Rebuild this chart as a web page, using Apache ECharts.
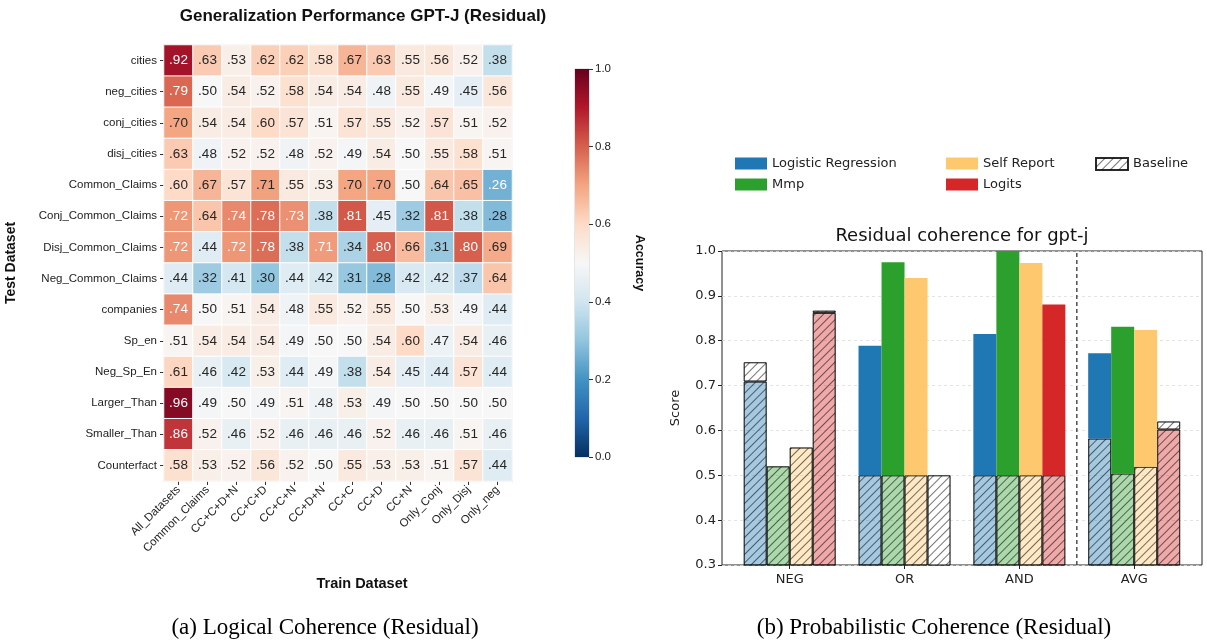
<!DOCTYPE html>
<html><head><meta charset="utf-8">
<script src="https://cdn.jsdelivr.net/npm/echarts@6/dist/echarts.min.js"></script>
<style>html,body{margin:0;padding:0;background:#fff}#c{width:1207px;height:643px}</style>
</head><body><div id="c"></div>
<script>
// ---------- Heatmap data ----------
const trainSets = ['All_Datasets','Common_Claims','CC+C+D+N','CC+C+D','CC+C+N','CC+D+N','CC+C','CC+D','CC+N','Only_Conj','Only_Disj','Only_neg'];
const testSets = ['cities','neg_cities','conj_cities','disj_cities','Common_Claims','Conj_Common_Claims','Disj_Common_Claims','Neg_Common_Claims','companies','Sp_en','Neg_Sp_En','Larger_Than','Smaller_Than','Counterfact'];
const accCities        = [0.92,0.63,0.53,0.62,0.62,0.58,0.67,0.63,0.55,0.56,0.52,0.38];
const accNegCities     = [0.79,0.50,0.54,0.52,0.58,0.54,0.54,0.48,0.55,0.49,0.45,0.56];
const accConjCities    = [0.70,0.54,0.54,0.60,0.57,0.51,0.57,0.55,0.52,0.57,0.51,0.52];
const accDisjCities    = [0.63,0.48,0.52,0.52,0.48,0.52,0.49,0.54,0.50,0.55,0.58,0.51];
const accCommonClaims  = [0.60,0.67,0.57,0.706,0.55,0.53,0.70,0.70,0.50,0.64,0.65,0.26];
const accConjCommon    = [0.72,0.64,0.74,0.78,0.73,0.38,0.81,0.45,0.32,0.81,0.38,0.28];
const accDisjCommon    = [0.72,0.44,0.72,0.78,0.38,0.714,0.34,0.80,0.66,0.31,0.80,0.69];
const accNegCommon     = [0.44,0.32,0.41,0.30,0.44,0.42,0.31,0.28,0.42,0.42,0.37,0.64];
const accCompanies     = [0.74,0.50,0.51,0.54,0.48,0.55,0.52,0.55,0.50,0.53,0.49,0.44];
const accSpEn          = [0.51,0.54,0.54,0.54,0.49,0.50,0.50,0.54,0.60,0.47,0.54,0.46];
const accNegSpEn       = [0.61,0.46,0.42,0.53,0.44,0.49,0.38,0.54,0.45,0.44,0.57,0.44];
const accLargerThan    = [0.96,0.49,0.50,0.49,0.51,0.48,0.53,0.49,0.50,0.50,0.50,0.50];
const accSmallerThan   = [0.86,0.52,0.46,0.52,0.46,0.46,0.46,0.52,0.46,0.46,0.51,0.46];
const accCounterfact   = [0.58,0.53,0.52,0.56,0.52,0.50,0.55,0.53,0.53,0.51,0.57,0.44];
const accuracyRows = [accCities,accNegCities,accConjCities,accDisjCities,accCommonClaims,accConjCommon,accDisjCommon,accNegCommon,accCompanies,accSpEn,accNegSpEn,accLargerThan,accSmallerThan,accCounterfact];

// ---------- Bar chart data ----------
const groups = ['NEG','OR','AND','AVG'];
const methods = ['Logistic Regression','Mmp','Self Report','Logits'];
const scoreLR     = [0.709, 0.789, 0.815, 0.772];
const scoreMmp    = [0.520, 0.975, 1.000, 0.831];
const scoreSR     = [0.562, 0.940, 0.973, 0.824];
const scoreLogits = [0.862, null,  0.881, 0.602];
const baseLR      = [0.752, 0.5, 0.5, 0.582];
const baseMmp     = [0.520, 0.5, 0.5, 0.504];
const baseSR      = [0.562, 0.5, 0.5, 0.519];
const baseLogits  = [0.867, 0.5, 0.5, 0.620];
const avgSeparator = 2.5; // dashed line between AND and AVG

// ---------- styles ----------
const RdBu_r = ['#053061','#2166ac','#4393c3','#92c5de','#d1e5f0','#f7f7f7','#fddbc7','#f4a582','#d6604d','#b2182b','#67001f'];
const methodColors = ['#1f77b4','#2ca02c','#fec86e','#d62728'];
const fadedColors = ['rgba(31,119,180,0.4)','rgba(44,160,44,0.4)','rgba(254,200,110,0.4)','rgba(214,39,40,0.4)'];
const edge = 'rgba(0,0,0,0.6)';
const hatch = {symbol:'rect', symbolSize:1, dashArrayX:[1,0], dashArrayY:[1,5], rotation:-Math.PI/4, color:'rgba(0,0,0,0.55)'};
const SANS = 'Liberation Sans, Arial, sans-serif';
const DJV = 'DejaVu Sans, sans-serif';
const SERIF = 'Liberation Serif, Times New Roman, serif';

function textColor(v){ return (v > 0.71 || v < 0.27) ? '#ffffff' : '#262626'; }
const heatData = [];
accuracyRows.forEach((row, r) => row.forEach((v, c) => heatData.push({value:[c, r, v], label:{color:textColor(v)}})));

const scores = [scoreLR, scoreMmp, scoreSR, scoreLogits];
const bases = [baseLR, baseMmp, baseSR, baseLogits];
const barSeries = [];
const BW = 23;
methods.forEach((m, k) => {
  const s = scores[k], b = bases[k];
  const common = {type:'bar', xAxisIndex:2, yAxisIndex:2, stack:m, barWidth:BW, barGap:'0%', animation:false};
  barSeries.push(Object.assign({}, common, {
    name: m + ' (below baseline)',
    data: s.map((v,i) => v == null ? '-' : Math.min(v, b[i])),
    itemStyle:{color:fadedColors[k], decal:hatch, borderColor:edge, borderWidth:1}
  }));
  barSeries.push(Object.assign({}, common, {
    name: m,
    data: s.map((v,i) => (v != null && v > b[i]) ? +(v - b[i]).toFixed(4) : '-'),
    itemStyle:{color:methodColors[k], borderWidth:0}
  }));
  barSeries.push(Object.assign({}, common, {
    name: 'Baseline',
    data: s.map((v,i) => { const f = v == null ? 0 : v; return b[i] > f ? +(b[i] - f).toFixed(4) : '-'; }),
    itemStyle:{color:'#ffffff', decal:hatch, borderColor:edge, borderWidth:1}
  }));
});

const cbGradient = new echarts.graphic.LinearGradient(0, 1, 0, 0, RdBu_r.map((c, i) => ({offset:i/10, color:c})));

const option = {
  backgroundColor:'#fff',
  animation:false,
  grid:[
    {left:164, top:45, width:348, height:436, show:true, borderColor:'#d0d0d0', borderWidth:1.5, backgroundColor:'transparent'},
    {left:575, top:69, width:14, height:388, show:true, borderColor:'#cccccc', borderWidth:1},
    {left:732.3, top:251, width:459.3, height:314},
    {left:722, top:251, width:480, height:314, show:true, borderColor:'#222', borderWidth:1}
  ],
  xAxis:[
    {gridIndex:0, type:'category', data:trainSets, axisLine:{show:false}, splitLine:{show:false},
     axisTick:{show:true, alignWithLabel:true, length:4, lineStyle:{color:'#333'}},
     axisLabel:{rotate:45, interval:0, fontSize:11.5, color:'#222', fontFamily:SANS, margin:7}},
    {gridIndex:1, type:'category', data:['cb'], show:false},
    {gridIndex:2, type:'category', data:groups, boundaryGap:true, axisLine:{show:false, onZero:false},
     axisTick:{show:true, alignWithLabel:true, length:4, lineStyle:{color:'#222'}},
     axisLabel:{fontSize:13, color:'#222', fontFamily:DJV, margin:8}},
    {gridIndex:3, type:'value', min:-0.59, max:3.59, show:false, axisLine:{onZero:false}}
  ],
  yAxis:[
    {gridIndex:0, type:'category', data:testSets, inverse:true, axisLine:{show:false}, splitLine:{show:false},
     axisTick:{show:true, alignWithLabel:true, length:4, lineStyle:{color:'#333'}},
     axisLabel:{fontSize:11.5, color:'#222', fontFamily:SANS, margin:7},
     name:'Test Dataset', nameLocation:'middle', nameGap:146, nameRotate:90,
     nameTextStyle:{fontSize:14, fontWeight:'bold', color:'#111', fontFamily:SANS}},
    {gridIndex:1, type:'value', min:0, max:1, interval:0.2, position:'right',
     axisLine:{show:false}, splitLine:{show:false},
     axisTick:{show:true, length:4, lineStyle:{color:'#333'}},
     axisLabel:{fontSize:11.5, color:'#222', fontFamily:SANS, margin:6, formatter:v => v.toFixed(1)},
     name:'Accuracy', nameLocation:'middle', nameGap:44, nameRotate:-90,
     nameTextStyle:{fontSize:12.5, fontWeight:'bold', color:'#111', fontFamily:SANS}},
    {gridIndex:2, type:'value', min:0.3, max:1.0, show:false},
    {gridIndex:3, type:'value', min:0.3, max:1.0, interval:0.1,
     axisLine:{show:false, onZero:false},
     axisTick:{show:true, length:4, lineStyle:{color:'#222'}},
     axisLabel:{fontSize:13, color:'#222', fontFamily:DJV, margin:6, formatter:v => v.toFixed(1)},
     splitLine:{show:true, lineStyle:{color:'#dcdcdc', type:[3,3], width:0.8}},
     name:'Score', nameLocation:'middle', nameGap:40, nameRotate:90,
     nameTextStyle:{fontSize:13, color:'#222', fontFamily:DJV}}
  ],
  visualMap:{show:false, type:'continuous', min:0, max:1, dimension:2, seriesIndex:0, inRange:{color:RdBu_r}},
  legend:[
    {left:730, top:152, orient:'vertical', itemWidth:32, itemHeight:12, itemGap:8, icon:'rect', selectedMode:false,
     data:['Logistic Regression','Mmp'], textStyle:{fontSize:13, color:'#222', fontFamily:DJV}},
    {left:941, top:152, orient:'vertical', itemWidth:32, itemHeight:12, itemGap:8, icon:'rect', selectedMode:false,
     data:['Self Report','Logits'], textStyle:{fontSize:13, color:'#222', fontFamily:DJV}},
    {left:1090, top:152, orient:'vertical', itemWidth:32, itemHeight:12, itemGap:8, icon:'rect', selectedMode:false,
     data:['Baseline'], textStyle:{fontSize:13, color:'#222', fontFamily:DJV}}
  ],
  series:[
    {type:'heatmap', xAxisIndex:0, yAxisIndex:0, data:heatData,
     itemStyle:{borderColor:'#ffffff', borderWidth:1},
     label:{show:true, fontSize:13.5, fontFamily:SANS, formatter:p => p.value[2].toFixed(2).replace(/^0/, '')}},
    {type:'bar', xAxisIndex:1, yAxisIndex:1, data:[1], barWidth:'100%', itemStyle:{color:cbGradient}, silent:true},
    {type:'line', xAxisIndex:3, yAxisIndex:3, data:[[avgSeparator,0.3],[avgSeparator,1.0]], symbol:'none',
     lineStyle:{color:'#333', width:1.3, type:[4,3]}, silent:true}
  ].concat(barSeries),
  graphic:[
    {type:'text', position:[363, 16], style:{text:'Generalization Performance GPT-J (Residual)', x:0, y:0, textAlign:'center', textVerticalAlign:'middle', font:'bold 17px '+SANS, fill:'#111'}},
    {type:'text', position:[362, 584], style:{text:'Train Dataset', x:0, y:0, textAlign:'center', textVerticalAlign:'middle', font:'bold 14.5px '+SANS, fill:'#111'}},
    {type:'text', position:[962, 236], style:{text:'Residual coherence for gpt-j', x:0, y:0, textAlign:'center', textVerticalAlign:'middle', font:'18px '+DJV, fill:'#111'}},
    {type:'text', position:[325, 628], style:{text:'(a) Logical Coherence (Residual)', x:0, y:0, textAlign:'center', textVerticalAlign:'middle', font:'23px '+SERIF, fill:'#000'}},
    {type:'text', position:[934, 628], style:{text:'(b) Probabilistic Coherence (Residual)', x:0, y:0, textAlign:'center', textVerticalAlign:'middle', font:'23px '+SERIF, fill:'#000'}}
  ]
};
const chart = echarts.init(document.getElementById('c'), null, {renderer:'canvas'});
chart.setOption(option);
</script></body></html>
